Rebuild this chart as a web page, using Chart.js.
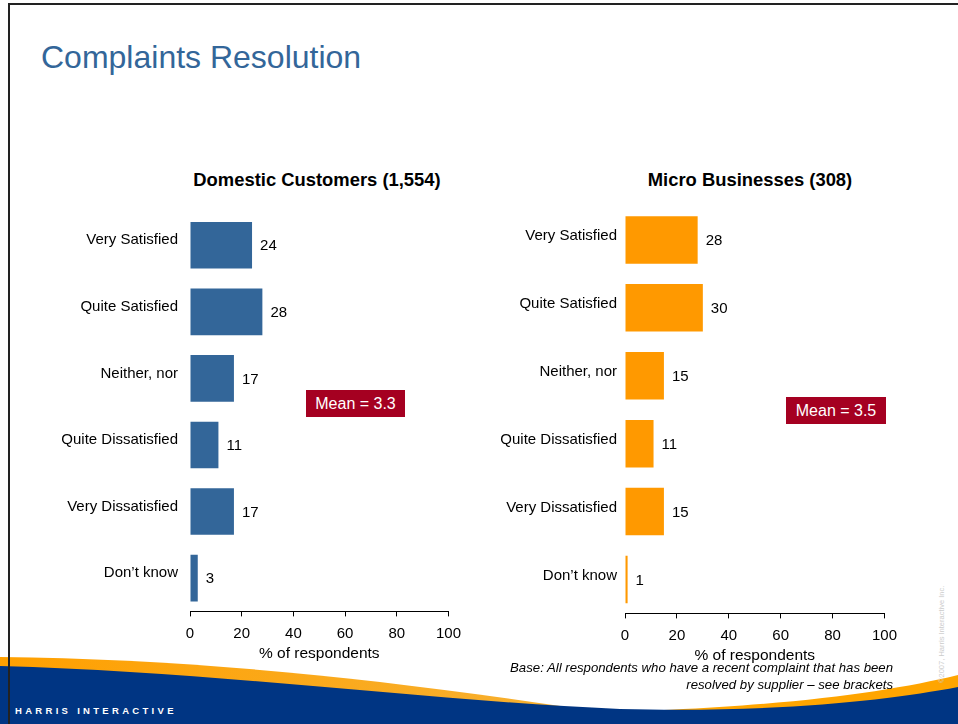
<!DOCTYPE html>
<html>
<head>
<meta charset="utf-8">
<script src="https://cdn.jsdelivr.net/npm/chart.js@4.4.1/dist/chart.umd.min.js"></script>
<style>
  html, body { margin: 0; padding: 0; background: #fff; }
  body { width: 958px; height: 724px; position: relative; overflow: hidden; font-family: 'Liberation Sans', Arial, sans-serif; }
  .abs { position: absolute; }
  #frameTop { left: 8px; top: 3px; width: 950px; height: 2px; background: #222; }
  #frameLeft { left: 8px; top: 3px; width: 2px; height: 721px; background: #222; }
  #title { left: 41px; top: 39px; font-size: 32px; color: #336699; white-space: nowrap; }
  .subTitle { top: 169px; font-size: 18.4px; font-weight: bold; color: #000; white-space: nowrap; transform: translateX(-50%); }
  .mean { background: #a50021; color: #fff; font-size: 16px; text-align: center; line-height: 27px; height: 27px; }
  #base { right: 65px; top: 659px; font-size: 13.2px; font-style: italic; text-align: right; line-height: 17px; color: #000; }
  #brand { left: 15px; top: 705px; font-size: 9.5px; font-weight: bold; letter-spacing: 3.3px; color: #fff; }
  #copy { left: 937px; top: 683px; font-size: 7.5px; color: #ccc; transform: rotate(-90deg); transform-origin: left top; white-space: nowrap; }
</style>
</head>
<body>
<svg class="abs" style="left:0;top:0" width="958" height="724">
  <defs>
    <linearGradient id="og" x1="0" x2="1" y1="0" y2="0">
      <stop offset="0" stop-color="#ffa000"/>
      <stop offset="1" stop-color="#f7b030"/>
    </linearGradient>
  </defs>
  <path d="M0,657 C180,659 360,676 560,706 L560,724 L0,724 Z" fill="url(#og)"/>
  <path d="M560,713 C760,710 880,694 958,675 L958,724 L560,724 Z" fill="#ffa500"/>
  <path d="M0,666 C220,672 420,700 620,709 C780,713 890,700 958,687 L958,724 L0,724 Z" fill="#003583"/>
</svg>
<div id="frameTop" class="abs"></div>
<div id="frameLeft" class="abs"></div>
<div id="title" class="abs">Complaints Resolution</div>
<div class="abs subTitle" style="left:317px">Domestic Customers (1,554)</div>
<div class="abs subTitle" style="left:750px">Micro Businesses (308)</div>

<div class="abs" style="left:20px;top:191px;width:449px;height:476px"><canvas id="domesticChart"></canvas></div>
<div class="abs" style="left:480px;top:189px;width:425px;height:480px"><canvas id="microChart"></canvas></div>

<div id="meanLeft" class="abs mean" style="left:306px;top:390px;width:99px"></div>
<div id="meanRight" class="abs mean" style="left:786px;top:397px;width:100px"></div>

<div id="base" class="abs">Base: All respondents who have a recent complaint that has been<br>resolved by supplier &ndash; see brackets</div>
<div id="brand" class="abs">HARRIS INTERACTIVE</div>
<div id="copy" class="abs">&copy;2007, Harris Interactive Inc.</div>

<script>
const categories = ['Very Satisfied', 'Quite Satisfied', 'Neither, nor', 'Quite Dissatisfied', 'Very Dissatisfied', 'Don\u2019t know'];
const domesticValues = [24, 28, 17, 11, 17, 3];
const microValues = [28, 30, 15, 11, 15, 1];
const xTicks = [0, 20, 40, 60, 80, 100];
const domesticMean = 3.3;
const microMean = 3.5;

Chart.defaults.font.family = "'Liberation Sans', Arial, sans-serif";
Chart.defaults.color = '#000';

document.getElementById('meanLeft').textContent = 'Mean = ' + domesticMean;
document.getElementById('meanRight').textContent = 'Mean = ' + microMean;

// draws the number just after each bar
const valueLabels = {
  id: 'valueLabels',
  afterDatasetsDraw(chart) {
    const ctx = chart.ctx;
    const meta = chart.getDatasetMeta(0);
    const values = chart.data.datasets[0].data;
    ctx.save();
    ctx.font = "15px 'Liberation Sans', Arial, sans-serif";
    ctx.fillStyle = '#000';
    ctx.textBaseline = 'middle';
    meta.data.forEach((bar, i) => {
      ctx.fillText(values[i], bar.x + 8, bar.y + 1);
    });
    ctx.restore();
  }
};

function makeChart(id, values, color, yWidth, labelOffset, tickPad) {
  const ctx = document.getElementById(id).getContext('2d');
  return new Chart(ctx, {
    type: 'bar',
    data: {
      labels: categories,
      datasets: [{
        data: values,
        backgroundColor: color,
        barPercentage: 0.7,
        categoryPercentage: 1
      }]
    },
    options: {
      indexAxis: 'y',
      responsive: true,
      maintainAspectRatio: false,
      animation: false,
      layout: { padding: { top: 7 } },
      plugins: {
        legend: { display: false },
        tooltip: { enabled: false }
      },
      scales: {
        x: {
          min: 0,
          max: 100,
          afterBuildTicks: s => { s.ticks = xTicks.map(v => ({ value: v })); },
          ticks: { color: '#000', font: { size: 15 }, padding: 8, maxRotation: 0 },
          grid: { drawOnChartArea: false, drawTicks: true, tickLength: 5, color: '#000' },
          border: { display: true, color: '#000', width: 1 },
          title: { display: true, text: '% of respondents', color: '#000', font: { size: 15.5 }, padding: { top: -6, bottom: 4 } }
        },
        y: {
          afterFit: s => { s.width = yWidth; },
          ticks: { color: '#000', font: { size: 15 }, padding: tickPad, labelOffset: labelOffset },
          grid: { display: false, drawTicks: false },
          border: { display: false }
        }
      }
    },
    plugins: [valueLabels]
  });
}

makeChart('domesticChart', domesticValues, '#336699', 170, -5, 12);
makeChart('microChart', microValues, '#ff9900', 145, -4, 8);
</script>
</body>
</html>
